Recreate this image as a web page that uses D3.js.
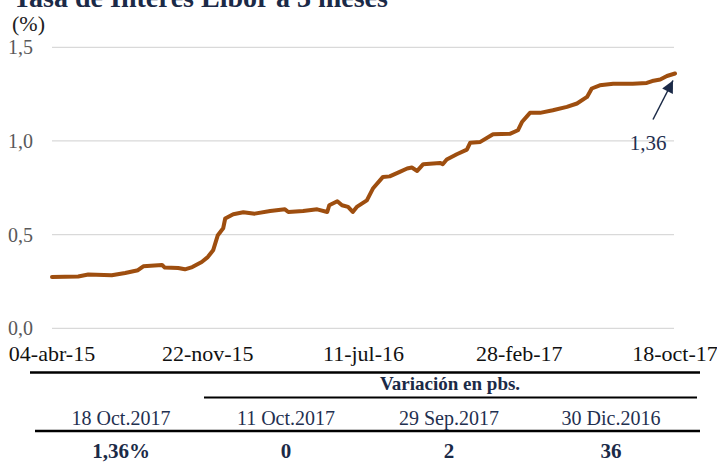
<!DOCTYPE html>
<html><head><meta charset="utf-8">
<script src="https://cdn.jsdelivr.net/npm/d3@7"></script>
<style>
html,body{margin:0;padding:0;background:#fff;}
svg{display:block;font-family:"Liberation Serif","DejaVu Serif",serif;}
</style></head>
<body>
<svg id="c" width="717" height="462"></svg>
<script>
const title = "Tasa de Interés Libor a 3 meses";
const unitLabel = "(%)";
const dates = ["2015-04-04","2015-05-13","2015-05-28","2015-07-02","2015-07-22","2015-08-10","2015-08-18","2015-09-15","2015-09-19","2015-10-09","2015-10-19","2015-10-30","2015-11-13","2015-11-22","2015-11-30","2015-12-07","2015-12-15","2015-12-18","2015-12-30","2016-01-14","2016-01-31","2016-02-23","2016-03-16","2016-03-21","2016-04-12","2016-05-03","2016-05-18","2016-05-21","2016-06-02","2016-06-09","2016-06-18","2016-06-25","2016-07-01","2016-07-16","2016-07-25","2016-08-09","2016-08-19","2016-09-03","2016-09-14","2016-09-21","2016-09-29","2016-10-08","2016-11-02","2016-11-06","2016-11-12","2016-11-27","2016-12-12","2016-12-17","2017-01-01","2017-01-20","2017-02-14","2017-02-26","2017-03-04","2017-03-16","2017-03-31","2017-04-19","2017-05-10","2017-05-25","2017-06-09","2017-06-16","2017-06-28","2017-07-18","2017-08-16","2017-09-06","2017-09-14","2017-09-26","2017-10-06","2017-10-18"];
const libor = [0.274,0.277,0.287,0.283,0.295,0.31,0.331,0.338,0.324,0.322,0.315,0.327,0.354,0.38,0.416,0.497,0.534,0.586,0.609,0.619,0.612,0.626,0.635,0.621,0.626,0.635,0.621,0.657,0.678,0.657,0.648,0.621,0.648,0.683,0.746,0.808,0.811,0.835,0.853,0.858,0.84,0.876,0.883,0.876,0.901,0.929,0.954,0.991,0.995,1.036,1.038,1.057,1.101,1.15,1.15,1.164,1.182,1.2,1.235,1.28,1.297,1.306,1.306,1.31,1.32,1.328,1.347,1.36];
const xTickDates = ["2015-04-04","2015-11-22","2016-07-11","2017-02-28","2017-10-18"];
const xTickLabels = ["04-abr-15","22-nov-15","11-jul-16","28-feb-17","18-oct-17"];
const yTicks = [0, 0.5, 1.0, 1.5];
const lastLabel = "1,36";
const tableGroupHeader = "Variación en pbs.";
const tableHeaders = ["18 Oct.2017","11 Oct.2017","29 Sep.2017","30 Dic.2016"];
const tableValues = ["1,36%","0","2","36"];

const parse = d3.utcParse("%Y-%m-%d");
const data = dates.map((d,i)=>({date:parse(d), v:libor[i]}));
const svg = d3.select("#c");

const x = d3.scaleUtc().domain([parse(xTickDates[0]), parse(xTickDates[4])]).range([52, 675]);
const y = d3.scaleLinear().domain([0,1.5]).range([328.3, 47.3]);

// title (cut off at top, as in the reference)
svg.append("text").attr("x",13).attr("y",7).attr("font-size",28).attr("font-weight","bold")
  .attr("fill","#1b2a47").text(title);
svg.append("text").attr("x",12).attr("y",31).attr("font-size",22).attr("fill","#222").text(unitLabel);

// gridlines
svg.append("g").selectAll("line").data(yTicks).join("line")
  .attr("x1",52).attr("x2",674).attr("y1",d=>y(d)).attr("y2",d=>y(d))
  .attr("stroke","#d9d9d9").attr("stroke-width",1.3);

// y labels
const fmt = d=>d3.format(".1f")(d).replace(".",",");
svg.append("g").selectAll("text").data(yTicks).join("text")
  .attr("x",33).attr("y",d=>y(d)+7).attr("text-anchor","end").attr("font-size",20)
  .attr("fill","#595959").text(fmt);

// x labels
svg.append("g").selectAll("text").data(xTickDates).join("text")
  .attr("x",d=>x(parse(d))).attr("y",360.5).attr("text-anchor","middle").attr("font-size",22)
  .attr("fill","#111").text((d,i)=>xTickLabels[i]);

// line
const line = d3.line().x(d=>x(d.date)).y(d=>y(d.v)).curve(d3.curveLinear);
svg.append("path").datum(data).attr("d",line).attr("fill","none")
  .attr("stroke","#9e4e0f").attr("stroke-width",4).attr("stroke-linejoin","round").attr("stroke-linecap","round");

// annotation arrow
const last = data[data.length-1];
const tipX = x(last.date)-2, tipY = y(last.v)+7;
svg.append("defs").append("marker").attr("id","ah").attr("viewBox","0 0 10 10")
  .attr("refX",10).attr("refY",5).attr("markerWidth",8.5).attr("markerHeight",8)
  .attr("markerUnits","strokeWidth").attr("orient","auto")
  .append("path").attr("d","M0,0 L10,5 L0,10 z").attr("fill","#1b2a47");
svg.append("line").attr("x1",tipX-20).attr("y1",tipY+39).attr("x2",tipX).attr("y2",tipY)
  .attr("stroke","#1b2a47").attr("stroke-width",1.5).attr("marker-end","url(#ah)");
svg.append("text").attr("x",648).attr("y",150).attr("text-anchor","middle").attr("font-size",21)
  .attr("fill","#1f3050").text(lastLabel);

// table
const colX = [121, 286, 449, 611];
svg.append("line").attr("x1",30).attr("x2",700).attr("y1",372.5).attr("y2",372.5).attr("stroke","#000").attr("stroke-width",2.5);
svg.append("line").attr("x1",204).attr("x2",697).attr("y1",397.5).attr("y2",397.5).attr("stroke","#000").attr("stroke-width",2.2);
svg.append("line").attr("x1",35).attr("x2",700).attr("y1",431).attr("y2",431).attr("stroke","#000").attr("stroke-width",2.5);
svg.append("text").attr("x",450).attr("y",390).attr("text-anchor","middle").attr("font-size",19)
  .attr("font-weight","bold").attr("fill","#1b2a47").text(tableGroupHeader);
svg.append("g").selectAll("text").data(tableHeaders).join("text")
  .attr("x",(d,i)=>colX[i]).attr("y",425).attr("text-anchor","middle").attr("font-size",20)
  .attr("fill","#1f3050").text(d=>d);
svg.append("g").selectAll("text").data(tableValues).join("text")
  .attr("x",(d,i)=>colX[i]).attr("y",458).attr("text-anchor","middle").attr("font-size",21)
  .attr("font-weight","bold").attr("fill","#1b2a47").text(d=>d);
</script>
</body></html>
